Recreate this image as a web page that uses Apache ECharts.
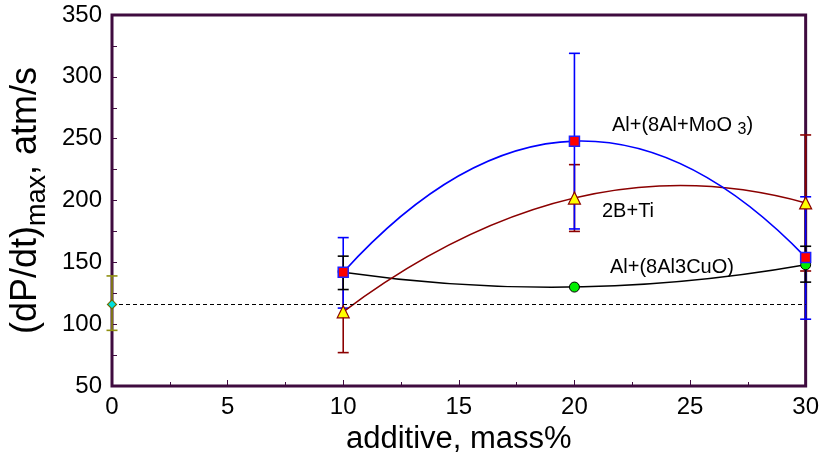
<!DOCTYPE html>
<html>
<head>
<meta charset="utf-8">
<script src="https://cdn.jsdelivr.net/npm/echarts@6/dist/echarts.min.js"></script>
<style>html,body{margin:0;padding:0;background:#fff}#c{width:822px;height:460px}</style>
</head>
<body>
<div id="c"></div>
<script>
// ---- data ----
const xValues = [10, 20, 30];
const moo3 = [142, 248, 154];
const moo3Low = [113, 177, 104];
const moo3High = [170, 319, 203];
const bti = [110, 202, 198];
const btiLow = [77, 175, 143];
const btiHigh = [143, 229, 253];
const cuo = [142, 130, 148];
const cuoErrX = [10, 30];
const cuoLow = [128, 134];
const cuoHigh = [155, 163];
const baseX = [0];
const base = [116];
const baseLow = [95];
const baseHigh = [139];
const xTicks = [0, 5, 10, 15, 20, 25, 30];
const yTicks = [50, 100, 150, 200, 250, 300, 350];

const FONT = 'Liberation Sans, Arial, sans-serif';
const pairs = (xs, ys) => xs.map((x, i) => [x, ys[i]]);
const errData = (xs, lo, hi) => xs.map((x, i) => [x, lo[i], hi[i]]);

function errSeries(data, color, z) {
  return {
    type: 'custom', clip: false, z: z,
    data: data,
    renderItem: function (params, api) {
      const x = api.value(0), lo = api.value(1), hi = api.value(2);
      const p1 = api.coord([x, lo]), p2 = api.coord([x, hi]);
      const w = 5.5;
      const st = { stroke: color, lineWidth: 1.6 };
      return {
        type: 'group',
        children: [
          { type: 'line', shape: { x1: p1[0], y1: p1[1], x2: p2[0], y2: p2[1] }, style: st },
          { type: 'line', shape: { x1: p1[0] - w, y1: p1[1], x2: p1[0] + w, y2: p1[1] }, style: st },
          { type: 'line', shape: { x1: p2[0] - w, y1: p2[1], x2: p2[0] + w, y2: p2[1] }, style: st }
        ]
      };
    }
  };
}

// fitted curve through the three measured points (quadratic Bezier through them)
function curveSeries(xs, ys, color, z) {
  return {
    type: 'custom', clip: false, z: z, silent: true,
    data: [[xs[1], ys[1]]],
    renderItem: function (params, api) {
      const p0 = api.coord([xs[0], ys[0]]);
      const p1 = api.coord([xs[1], ys[1]]);
      const p2 = api.coord([xs[2], ys[2]]);
      const cx = 2 * p1[0] - (p0[0] + p2[0]) / 2;
      const cy = 2 * p1[1] - (p0[1] + p2[1]) / 2;
      return {
        type: 'bezierCurve',
        shape: { x1: p0[0], y1: p0[1], x2: p2[0], y2: p2[1], cpx1: cx, cpy1: cy },
        style: { stroke: color, fill: 'none', lineWidth: 1.6 }
      };
    }
  };
}

function markerSeries(xs, ys, symbol, size, fill, border, bw, z) {
  return {
    type: 'scatter', clip: false, z: z,
    data: pairs(xs, ys),
    symbol: symbol, symbolSize: size,
    itemStyle: { color: fill, borderColor: border, borderWidth: bw, opacity: 1 }
  };
}

const chart = echarts.init(document.getElementById('c'), null, { renderer: 'canvas' });
chart.setOption({
  animation: false,
  backgroundColor: '#fff',
  grid: { left: 112, right: 16, top: 15, bottom: 71, show: true, borderColor: '#3f0b3f', borderWidth: 3, backgroundColor: 'transparent' },
  xAxis: {
    type: 'value', min: xTicks[0], max: xTicks[xTicks.length - 1], interval: 5,
    name: 'additive, mass%', nameLocation: 'middle', nameGap: 38,
    nameTextStyle: { fontSize: 31, fontFamily: FONT, color: '#000' },
    axisLine: { show: false },
    axisTick: { show: true, inside: true, length: 6, lineStyle: { color: '#3f0b3f', width: 1 } },
    minorTick: { show: true, splitNumber: 2, length: 4, lineStyle: { color: '#3f0b3f' } },
    axisLabel: { fontSize: 24, fontFamily: FONT, color: '#000', margin: 9 },
    splitLine: { show: false }
  },
  yAxis: {
    type: 'value', min: yTicks[0], max: yTicks[yTicks.length - 1], interval: 50,
    name: '{a|(dP/dt)}{s|max}{a|, atm/s}', nameLocation: 'middle', nameGap: 56, nameRotate: 90,
    nameTextStyle: {
      fontFamily: FONT, color: '#000',
      rich: {
        a: { fontSize: 36, fontFamily: FONT, color: '#000', lineHeight: 50, verticalAlign: 'middle' },
        s: { fontSize: 27, fontFamily: FONT, color: '#000', lineHeight: 50, verticalAlign: 'bottom' }
      }
    },
    axisLine: { show: false },
    axisTick: { show: true, inside: true, length: 5, lineStyle: { color: '#3f0b3f', width: 1 } },
    minorTick: { show: true, splitNumber: 2, length: 5, lineStyle: { color: '#3f0b3f' } },
    axisLabel: { fontSize: 24, fontFamily: FONT, color: '#000', margin: 10 },
    splitLine: { show: false }
  },
  series: [
    errSeries(errData(xValues, btiLow, btiHigh), '#8b0000', 3),
    errSeries(errData(xValues, moo3Low, moo3High), '#0000ff', 3),
    errSeries(errData(cuoErrX, cuoLow, cuoHigh), '#000000', 3),
    errSeries(errData(baseX, baseLow, baseHigh), '#8f8f10', 3),
    curveSeries(xValues, cuo, '#000000', 4),
    curveSeries(xValues, bti, '#8b0000', 4),
    curveSeries(xValues, moo3, '#0000ff', 4),
    markerSeries(xValues, cuo, 'circle', 10, '#00ee00', '#000', 1, 5),
    markerSeries(xValues, bti, 'triangle', 12, '#ffff00', '#8b0000', 1.2, 6),
    markerSeries(xValues, moo3, 'rect', 10, '#ff0000', '#2020ff', 1.5, 6),
    {
      name: 'base', type: 'scatter', clip: false, z: 7,
      data: pairs(baseX, base),
      symbol: 'diamond', symbolSize: 9,
      itemStyle: { color: '#00e0e0', borderColor: '#6b6b00', borderWidth: 1.2, opacity: 1 },
      markLine: {
        silent: true, symbol: 'none', label: { show: false },
        lineStyle: { color: '#000', type: [4, 3], width: 1 },
        data: [[{ coord: [xTicks[0], base[0]] }, { coord: [xTicks[xTicks.length - 1], base[0]] }]]
      }
    }
  ],
  graphic: [
    { type: 'text', left: 612, top: 115, style: { text: '{a|Al+(8Al+MoO }{s|3}{a|)}', rich: { a: { fontSize: 20, fontFamily: FONT, fill: '#000', lineHeight: 26, verticalAlign: 'middle' }, s: { fontSize: 16, fontFamily: FONT, fill: '#000', lineHeight: 26, verticalAlign: 'bottom' } } } },
    { type: 'text', left: 602, top: 201, style: { text: '2B+Ti', fontSize: 20, fontFamily: FONT, fill: '#000' } },
    { type: 'text', left: 610, top: 257, style: { text: 'Al+(8Al3CuO)', fontSize: 20, fontFamily: FONT, fill: '#000' } }
  ]
});
</script>
</body>
</html>
